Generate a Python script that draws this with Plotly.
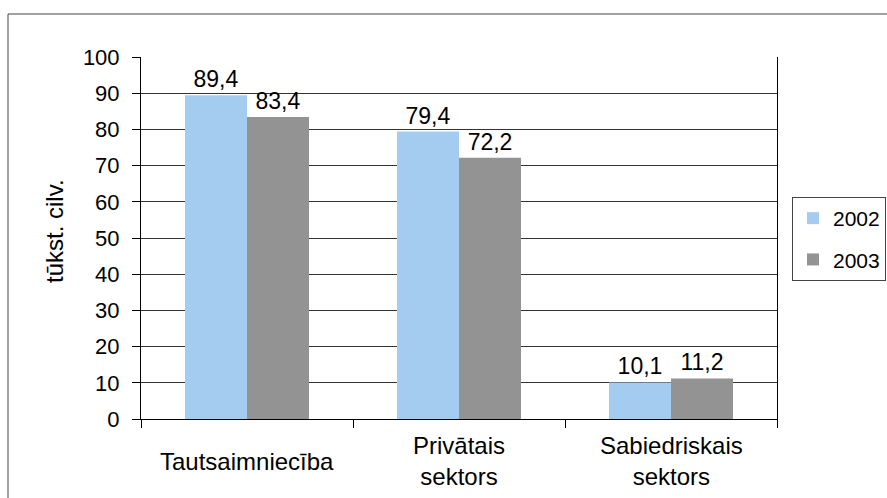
import plotly.graph_objects as go

categories = ["Tautsaimniecība", "Privātais<br>sektors", "Sabiedriskais<br>sektors"]
values_2002 = [89.4, 79.4, 10.1]
values_2003 = [83.4, 72.2, 11.2]
labels_2002 = ["89,4", "79,4", "10,1"]
labels_2003 = ["83,4", "72,2", "11,2"]
series_names = ["2002", "2003"]
y_title = "tūkst. cilv."

FONT = "Liberation Sans, Arial, sans-serif"
W, H = 887, 498
L, R, T, B = 141, 110, 57, 79
pw, ph = W - L - R, H - T - B

def px_x(x):
    return (x - L) / pw

def px_y(y):
    return (H - B - y) / ph

fig = go.Figure()
fig.add_trace(go.Bar(
    x=categories, y=values_2002, name=series_names[0], legendgroup="a",
    marker=dict(color="#A4CCF1", line=dict(width=0)),
    text=labels_2002, textposition="outside", cliponaxis=False,
    textfont=dict(size=23, color="black", family=FONT),
))
fig.add_trace(go.Bar(
    x=categories, y=values_2003, name=series_names[1], legendgroup="b",
    marker=dict(color="#939393", line=dict(width=0)),
    text=labels_2003, textposition="outside", cliponaxis=False,
    textfont=dict(size=23, color="black", family=FONT),
))

fig.update_layout(
    width=W, height=H,
    margin=dict(l=L, r=R, t=T, b=B, autoexpand=False),
    paper_bgcolor="white", plot_bgcolor="white",
    barmode="group", bargap=0.415, bargroupgap=0,
    font=dict(family=FONT, size=22, color="black"),
    legend=dict(
        x=px_x(792), y=px_y(197), xanchor="left", yanchor="top",
        bordercolor="#444", borderwidth=1, bgcolor="white",
        font=dict(size=21, family=FONT), tracegroupgap=11,
        itemwidth=30,
    ),
    showlegend=True,
)
fig.update_xaxes(
    showline=True, linecolor="black", linewidth=1,
    ticks="outside", tickson="boundaries", ticklen=8, tickcolor="black",
    showgrid=False, showticklabels=False,
)
fig.update_yaxes(
    range=[0, 100], dtick=10, showline=True, linecolor="black", linewidth=1,
    mirror=True,
    ticks="outside", ticklen=8, tickcolor="black",
    showgrid=True, gridcolor="#333", gridwidth=1,
    tickfont=dict(size=22, family=FONT), ticklabelstandoff=8,
    zeroline=False,
)
for c in categories:
    fig.add_annotation(
        x=c, xref="x", y=px_y(461), yref="paper", text=c, showarrow=False,
        xanchor="center", yanchor="middle",
        font=dict(size=24, family=FONT, color="black"),
    )
fig.add_annotation(
    x=px_x(54), xref="paper", y=px_y(231), yref="paper", text=y_title,
    showarrow=False, textangle=-90, xanchor="center", yanchor="middle",
    font=dict(size=24, family=FONT, color="black"),
)
fig.add_shape(
    type="rect", xref="paper", yref="paper",
    x0=px_x(8), x1=1.5, y0=-0.5, y1=px_y(14),
    line=dict(color="#444", width=1), fillcolor="rgba(0,0,0,0)", layer="below",
)
fig.write_html("out.html")
